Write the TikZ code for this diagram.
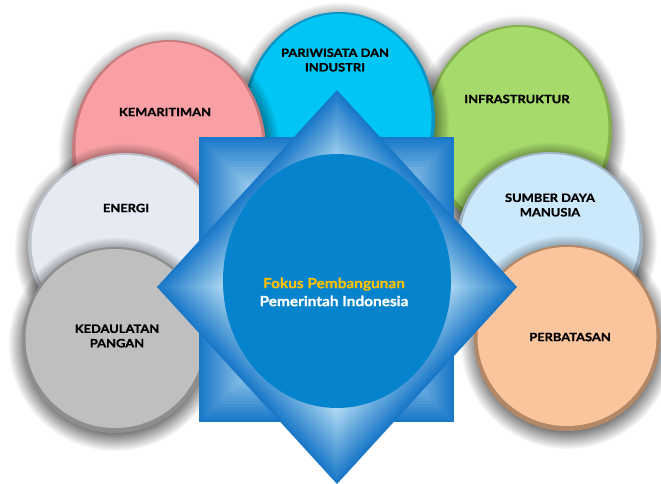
\documentclass[tikz,border=0pt]{standalone}
\usepackage{fontspec}
\setmainfont{Lato}
\newfontfamily\bubblefont[FakeStretch=1.12, BoldFeatures={FakeBold=1.2}]{Lato}
\newfontfamily\corefont[FakeStretch=1.1, BoldFeatures={FakeBold=0.8}]{Lato}
\usepackage{xcolor}
\usepackage{tikz}
\usetikzlibrary{fadings}

\definecolor{pinkfill}{HTML}{F9A0A4}  \definecolor{pinkrim}{HTML}{C97C80}
\definecolor{cyanfill}{HTML}{00C5F5}  \definecolor{cyanrim}{HTML}{0A96C4}
\definecolor{greenfill}{HTML}{A6DA6A} \definecolor{greenrim}{HTML}{84B04E}
\definecolor{energyfill}{HTML}{E6EAF3} \definecolor{energyrim}{HTML}{BCC1CA}
\definecolor{grayfill}{HTML}{BFBFBF}  \definecolor{grayrim}{HTML}{8E8E8E}
\definecolor{skyfill}{HTML}{CCE8FB}   \definecolor{skyrim}{HTML}{A0B5C6}
\definecolor{peachfill}{HTML}{FAC49C} \definecolor{peachrim}{HTML}{B38866}
\definecolor{stardark}{HTML}{1A78C8}
\definecolor{starlight}{HTML}{B4DCF4}
\definecolor{corefill}{HTML}{0583CD}
\definecolor{corefocus}{HTML}{FFC000}

% shadow, rim and face of one bubble: centre, x radius, y radius, fill, rim
\newcommand{\bubble}[5]{%
  \fill[black, fill opacity=.6, path fading=circle with fuzzy edge 20 percent, shift={(#1)}]
    (0,4) ellipse [x radius=#2pt+14pt, y radius=#3pt+14pt];
  \fill[#5, shift={(#1)}] (0,0) ellipse [x radius=#2pt, y radius=#3pt];
  \fill[#4, shift={(#1)}] (0,-1.5) ellipse [x radius=#2pt-3.5pt, y radius=#3pt-3.5pt];
}

\begin{document}
\begin{tikzpicture}[
      x=1pt, y=-1pt,
      bubbletext/.style = {font=\bubblefont\bfseries\fontsize{11.5}{14.5}\selectfont,
                           align=center, text=black, inner sep=0pt},
      coretext/.style   = {font=\corefont\bfseries\fontsize{14}{18}\selectfont,
                           align=center, text=white, inner sep=0pt}
  ]
  \useasboundingbox (0,0) rectangle (661,483);

  % --- Bubbles, back to front ---
  \bubble{519,130}{93}{105}{greenfill}{greenrim}
  \bubble{339,120}{96}{108}{cyanfill}{cyanrim}
  \bubble{169,150}{97}{110}{pinkfill}{pinkrim}
  \bubble{550,240}{93}{88}{skyfill}{skyrim}
  \bubble{125,245}{97}{92}{energyfill}{energyrim}
  \bubble{567,338}{93}{93}{peachfill}{peachrim}
  \bubble{115,340}{93}{93}{grayfill}{grayrim}

  % --- Bubble labels ---
  \node[bubbletext] (infrastruktur) at (517,99)  {INFRASTRUKTUR};
  \node[bubbletext] (pariwisata)    at (335,60)  {PARIWISATA DAN\\INDUSTRI};
  \node[bubbletext] (kemaritiman)   at (165,112) {KEMARITIMAN};
  \node[bubbletext] (sdm)           at (550,205) {SUMBER DAYA\\MANUSIA};
  \node[bubbletext] (energi)        at (126,208) {ENERGI};
  \node[bubbletext] (perbatasan)    at (570,337) {PERBATASAN};
  \node[bubbletext] (pangan)        at (117,336) {KEDAULATAN\\PANGAN};

  % --- Bevelled square ---
  \foreach \k in {0,...,19} {
    \pgfmathtruncatemacro\mix{\k*5}
    \fill[starlight!\mix!stardark] (199+3*\k,137+3*\k) rectangle (454-3*\k,422-3*\k);
  }

  % --- Bevelled diamond ---
  \foreach \k in {0,...,19} {
    \pgfmathtruncatemacro\mix{\k*5}
    \pgfmathsetmacro\s{1-\k*0.019}
    \fill[starlight!\mix!stardark] (337,{287-197*\s}) -- ({337+180*\s},287)
      -- (337,{287+197*\s}) -- ({337-180*\s},287) -- cycle;
  }

  % --- Core ---
  \fill[corefill] (337,281) ellipse [x radius=114pt, y radius=127pt];
  \node[coretext] (fokus) at (334,292)
        {\textcolor{corefocus}{Fokus Pembangunan}\\Pemerintah Indonesia};

\end{tikzpicture}
\end{document}
